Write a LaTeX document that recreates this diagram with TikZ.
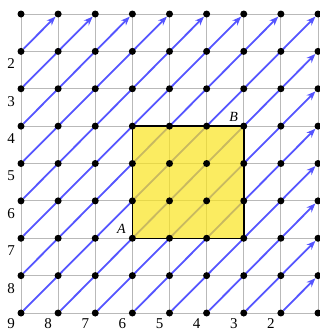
\documentclass[tikz,border=0pt]{standalone}
\usepackage{fontspec}
\setmainfont{Liberation Serif}
\usetikzlibrary{arrows.meta,backgrounds}
\definecolor{myblue}{RGB}{85,85,255}
\definecolor{gridgray}{RGB}{185,185,185}
\definecolor{myyellow}{RGB}{250,228,30}
\begin{document}
\begin{tikzpicture}[x=37.125pt,y=-37.375pt,
  dot/.style={circle,fill=black,inner sep=0pt,minimum size=7pt},
  gridline/.style={gridgray,line width=1pt},
  diag/.style={myblue,line width=1.8pt,-{Stealth[length=9pt,width=7pt]}},
  lab/.style={font=\fontsize{15}{18}\selectfont,inner sep=0pt},
  ptlab/.style={font=\fontsize{14}{17}\selectfont\itshape,inner sep=0pt}]
\useasboundingbox (-0.56566,-0.37458) rectangle (8.05387,8.50836);
\foreach \c in {0,...,8}{\foreach \r in {0,...,8}{\node[dot] (p-\c-\r) at (\c,\r) {};}}
\foreach \r in {0,...,8}{\coordinate (e-\r) at (8.06,\r);}
\begin{scope}[on background layer]
  \foreach \r in {0,...,8}{\draw[gridline] (p-0-\r.center) -- (e-\r);}
  \foreach \c in {0,...,8}{\draw[gridline] (p-\c-0.center) -- (p-\c-8.center);}
  \foreach \r in {1,...,8}{\draw[diag] (p-0-\r) -- (p-\r-0);}
  \foreach \c in {1,...,7}{\draw[diag] (p-\c-8) -- (p-8-\c);}
  \fill[myyellow,fill opacity=0.7] (p-3-3.center) rectangle (p-6-6.center);
  \draw[line width=1.5pt] (p-3-3.center) rectangle (p-6-6.center);
\end{scope}
\foreach \r in {1,...,7}{\pgfmathtruncatemacro\n{\r+1}\node[lab] (lr-\r) at ([shift={(-10pt,-12.5pt)}]p-0-\r) {\n};}
\node[lab] (lr-8) at ([shift={(-10pt,-11pt)}]p-0-8) {9};
\foreach \c in {1,...,7}{\pgfmathtruncatemacro\n{9-\c}\node[lab] (lc-\c) at ([shift={(-10pt,-11pt)}]p-\c-8) {\n};}
\node[ptlab] (A) at ([shift={(-11pt,9pt)}]p-3-6) {A};
\node[ptlab] (B) at ([shift={(-10pt,9pt)}]p-6-3) {B};
\end{tikzpicture}
\end{document}
